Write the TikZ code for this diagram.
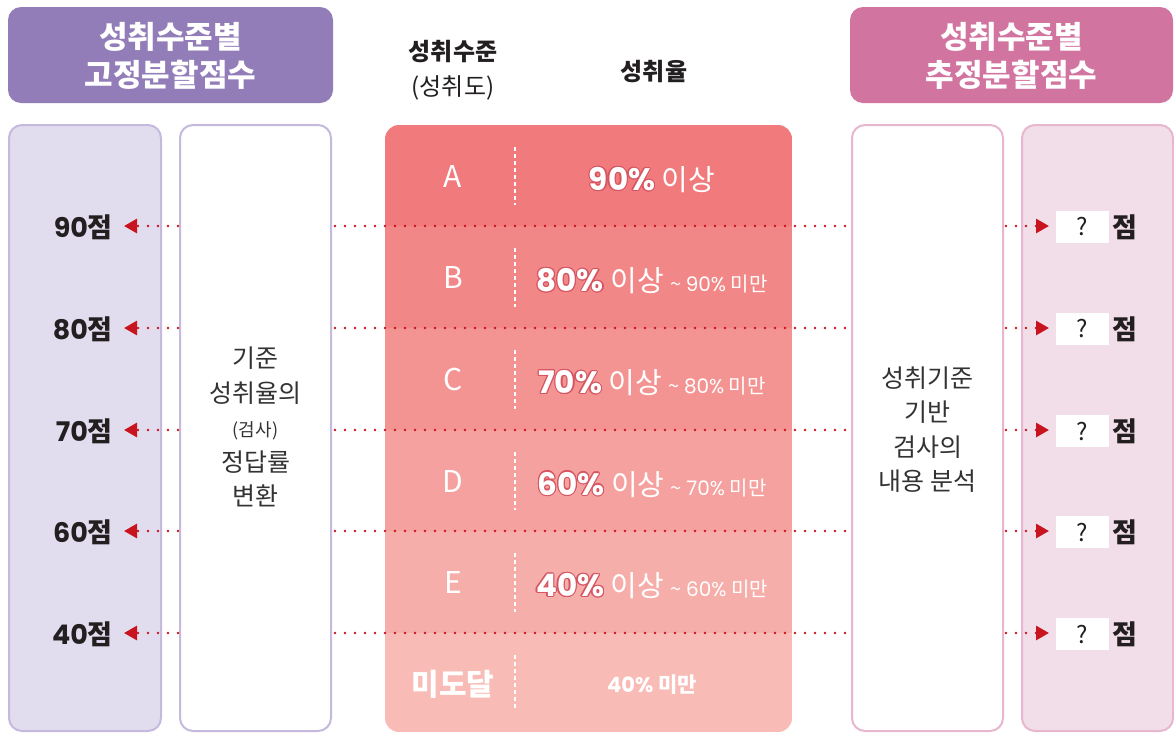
\documentclass[tikz,border=0pt]{standalone}
\usepackage{fontspec}
\setmainfont{Noto Sans CJK KR}
\newfontfamily\pop{Poppins}
\usetikzlibrary{arrows.meta}
\definecolor{hpurple}{HTML}{937DB9}
\definecolor{hpink}{HTML}{D274A0}
\definecolor{lavfill}{HTML}{E2DDEE}
\definecolor{lavline}{HTML}{C6B9DE}
\definecolor{pinkline}{HTML}{E7B6CF}
\definecolor{pinkfill}{HTML}{F2DEE9}
\definecolor{dotred}{HTML}{C8141E}
\definecolor{outl}{HTML}{D65561}
\definecolor{darktxt}{HTML}{231F20}
\definecolor{boxtxt}{HTML}{333333}
\definecolor{bandA}{RGB}{240,122,124}
\definecolor{bandB}{RGB}{242,135,136}
\definecolor{bandC}{RGB}{243,148,147}
\definecolor{bandD}{RGB}{245,161,159}
\definecolor{bandE}{RGB}{246,174,170}
\definecolor{bandF}{RGB}{248,187,182}
\newcommand\shcopy[3]{\rlap{\hspace*{#1}\raisebox{#2}{\color{outl}#3}}}
\newcommand\outl[1]{{\shcopy{1pt}{0pt}{#1}\shcopy{-1pt}{0pt}{#1}\shcopy{0pt}{1pt}{#1}\shcopy{0pt}{-1pt}{#1}\shcopy{.75pt}{.75pt}{#1}\shcopy{-.75pt}{.75pt}{#1}\shcopy{.75pt}{-.75pt}{#1}\shcopy{-.75pt}{-.75pt}{#1}\shcopy{1.3pt}{0pt}{#1}\shcopy{-1.3pt}{0pt}{#1}\shcopy{0pt}{1.3pt}{#1}\shcopy{0pt}{-1.3pt}{#1}{#1}}}
\begin{document}
\begin{tikzpicture}[x=1pt,y=-1pt,
  header/.style={text=white,font=\bfseries\fontsize{31}{38}\selectfont,align=center,inner sep=0pt},
  colhead/.style={text=darktxt,inner sep=0pt},
  boxtext/.style={text=boxtxt,font=\fontsize{25}{34.4}\selectfont,align=center,inner sep=0pt},
  level/.style={text=white,font=\fontsize{30}{30}\selectfont,anchor=base,inner sep=0pt},
  pct/.style={text=white,font=\fontsize{29}{30}\selectfont,anchor=base,inner sep=0pt},
  score/.style={text=darktxt,font=\bfseries\fontsize{27}{28}\selectfont,anchor=east,inner sep=0pt},
  qbox/.style={fill=white,minimum width=53pt,minimum height=32pt,inner sep=0pt,text=darktxt,font=\fontsize{24}{24}\selectfont},
  dotline/.style={draw=dotred,line width=2.8pt,line cap=round,dash pattern=on 0pt off 10pt},
  tipl/.style={-{Triangle[length=13pt,width=14pt,fill=dotred]}},
  vdash/.style={draw=white,line width=1.3pt,dash pattern=on 4pt off 3pt}]
\useasboundingbox (0,0) rectangle (1174,732);
\fill[white] (0,0) rectangle (1174,732);
% headers
\fill[hpurple,rounded corners=13pt] (8,7) rectangle (333,103);
\node[header] (hl) at (170.5,56) {성취수준별\\고정분할점수};
\fill[hpink,rounded corners=13pt] (850,7) rectangle (1173,103);
\node[header] (hr) at (1011.5,56) {성취수준별\\추정분할점수};
\node[colhead,font=\bfseries\fontsize{24}{24}\selectfont] (h1) at (453,52) {성취수준};
\node[colhead,font=\fontsize{24}{24}\selectfont] (h2) at (453,88) {(성취도)};
\node[colhead,font=\bfseries\fontsize{24}{24}\selectfont] (h3) at (654,72) {성취율};
% columns
\draw[lavline,fill=lavfill,line width=2pt,rounded corners=13pt] (9,125) rectangle (161,731);
\draw[lavline,fill=white,line width=2pt,rounded corners=13pt] (180,125) rectangle (331,731);
\draw[pinkline,fill=white,line width=2pt,rounded corners=13pt] (852,125) rectangle (1003,731);
\draw[pinkline,fill=pinkfill,line width=2pt,rounded corners=13pt] (1022,125) rectangle (1173,731);
% center bands
\begin{scope}
\clip[rounded corners=14pt] (385,125) rectangle (792,732);
\fill[bandA] (385,125) rectangle (792,226);
\fill[bandB] (385,226) rectangle (792,328);
\fill[bandC] (385,328) rectangle (792,430);
\fill[bandD] (385,430) rectangle (792,531);
\fill[bandE] (385,531) rectangle (792,633);
\fill[bandF] (385,633) rectangle (792,732);
\end{scope}
\foreach \t/\b in {125/226,226/328,328/430,430/531,531/633,633/732}
  \draw[vdash] (515,\t+22) -- (515,\b-21);
% level letters
\node[level] (lA) at (453,187.5) {A};
\node[level] (lB) at (453,288.5) {B};
\node[level] (lC) at (453,390.5) {C};
\node[level] (lD) at (453,492) {D};
\node[level] (lE) at (453,593.5) {E};
\node[level,font=\bfseries\fontsize{30}{30}\selectfont] (lF) at (453,695) {미도달};
% percentages
\node[pct] (pA) at (652,190.5) {\outl{\pop\bfseries\fontsize{31}{30}\selectfont 90\%}\ 이상};
\node[pct] (pB) at (652,291.5) {\outl{\pop\bfseries\fontsize{31}{30}\selectfont 80\%}\ 이상 {\fontsize{20}{20}\selectfont\textasciitilde\ {\pop 90\%} 미만}};
\node[pct] (pC) at (652,393.5) {\outl{\pop\bfseries\fontsize{31}{30}\selectfont 70\%}\ 이상 {\fontsize{20}{20}\selectfont\textasciitilde\ {\pop 80\%} 미만}};
\node[pct] (pD) at (652,495) {\outl{\pop\bfseries\fontsize{31}{30}\selectfont 60\%}\ 이상 {\fontsize{20}{20}\selectfont\textasciitilde\ {\pop 70\%} 미만}};
\node[pct] (pE) at (652,596.5) {\outl{\pop\bfseries\fontsize{31}{30}\selectfont 40\%}\ 이상 {\fontsize{20}{20}\selectfont\textasciitilde\ {\pop 60\%} 미만}};
\node[pct,font=\bfseries\fontsize{21}{22}\selectfont] (pF) at (652,692) {{\pop 40\%} 미만};
% box texts
\node[boxtext] (bt1) at (255.5,427) {기준\\성취율의\\{\fontsize{18}{20}\selectfont(검사)}\\정답률\\변환};
\node[boxtext] (bt2) at (927.5,429.5) {성취기준\\기반\\검사의\\내용 분석};
% levels: left scores, dotted connectors, right unknowns
\foreach \y/\s [count=\i] in {226/90,328/80,430/70,531/60,633/40}{
  \coordinate (La\i) at (178,\y);
  \coordinate (Lt\i) at (124,\y);
  \coordinate (Ca\i) at (335,\y);
  \coordinate (Cb\i) at (849,\y);
  \coordinate (Ra\i) at (1006,\y);
  \coordinate (Rt\i) at (1049,\y);
  \node[score] (s\i) at (113,\y+1) {{\pop\bfseries \s}점};
  \draw[dotline,tipl] (La\i) -- (Lt\i);
  \draw[dotline] (Ca\i) -- (Cb\i);
  \draw[dotline,tipl] (Ra\i) -- (Rt\i);
  \node[qbox] (q\i) at (1082.5,\y+1) {?};
  \node[score,anchor=center] (j\i) at (1125,\y+1) {점};
}
\end{tikzpicture}
\end{document}
